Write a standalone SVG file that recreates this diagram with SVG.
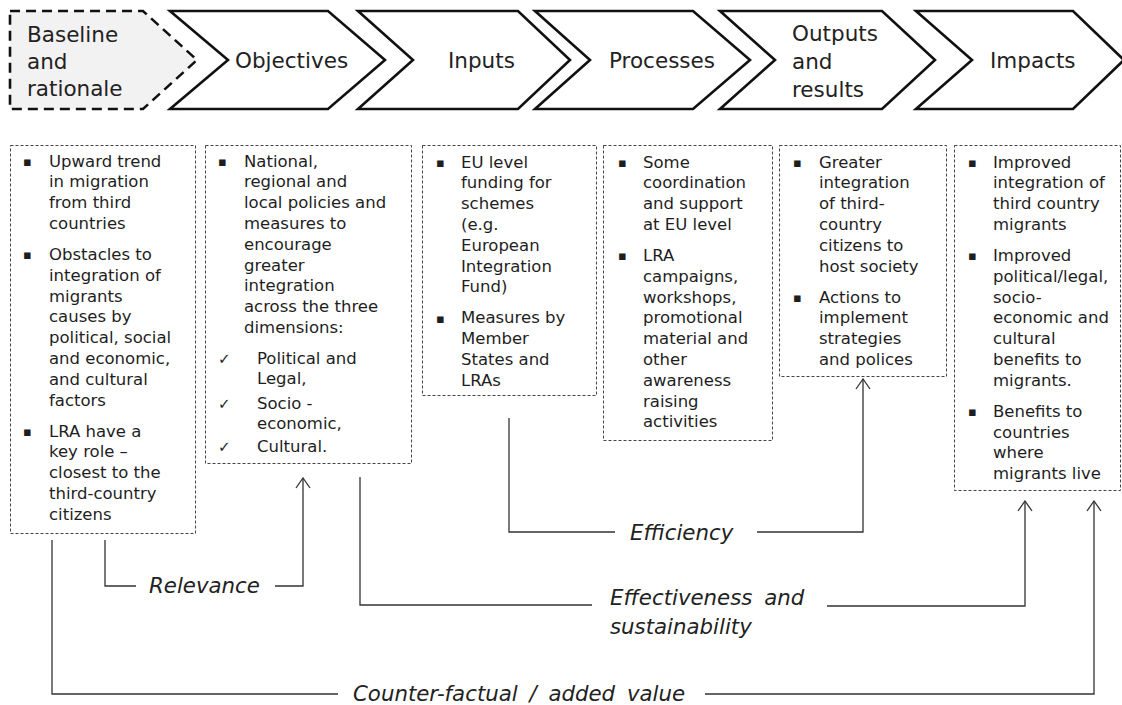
<svg xmlns="http://www.w3.org/2000/svg" width="1122" height="705" viewBox="0 0 1122 705">
<defs>
<style>
.chev{fill:#ffffff;stroke:#111;stroke-width:2.6;stroke-linejoin:miter}
.chev.base{fill:#f2f2f2;stroke-dasharray:10,6}
.ct{font-family:"DejaVu Sans",Verdana,sans-serif;font-size:21.5px;fill:#222}
.box{fill:none;stroke:#444;stroke-width:1;stroke-dasharray:3,2}
.bt{font-family:"DejaVu Sans",Verdana,sans-serif;font-size:16.5px;fill:#1e1e1e}
.bl{font-family:"DejaVu Sans",sans-serif;font-size:13px;fill:#1e1e1e}
.ck{font-family:"DejaVu Sans",sans-serif;font-size:15px;fill:#1e1e1e}
.conn path{fill:none;stroke:#333;stroke-width:1.3}
.lt{font-family:"DejaVu Sans",Verdana,sans-serif;font-size:21.3px;font-style:italic;fill:#222;word-spacing:5px}
</style>
<marker id="arr" viewBox="-1 -8 12 16" refX="10" refY="0" markerWidth="12" markerHeight="16" markerUnits="userSpaceOnUse" orient="auto">
<path d="M0,-7 L10,0 L0,7" fill="none" stroke="#333" stroke-width="1.3"/>
</marker>
</defs>
<rect width="1122" height="705" fill="#ffffff"/>

<g id="chev-baseline">
<polygon class="chev base" points="10,11 143,11 197,60 143,109 10,109"/>
<text class="ct" x="27" y="42">Baseline</text>
<text class="ct" x="27" y="69">and</text>
<text class="ct" x="27" y="96">rationale</text>
</g>
<g id="chev-objectives">
<polygon class="chev" points="170,11 328,11 385,60 328,109 170,109 228,60"/>
<text class="ct" x="235" y="68">Objectives</text>
</g>
<g id="chev-inputs">
<polygon class="chev" points="358,11 518,11 570,60 518,109 358,109 413,60"/>
<text class="ct" x="448" y="68">Inputs</text>
</g>
<g id="chev-processes">
<polygon class="chev" points="535,11 693,11 750,60 693,109 535,109 590,60"/>
<text class="ct" x="609" y="68">Processes</text>
</g>
<g id="chev-outputs">
<polygon class="chev" points="720,11 882,11 935,60 882,109 720,109 775,60"/>
<text class="ct" x="792" y="41">Outputs</text>
<text class="ct" x="792" y="69">and</text>
<text class="ct" x="792" y="97">results</text>
</g>
<g id="chev-impacts">
<polygon class="chev" points="916,11 1073,11 1124,60 1073,109 916,109 972,60"/>
<text class="ct" x="990" y="68">Impacts</text>
</g>

<g id="box-baseline">
<rect class="box" x="10.5" y="145.5" width="185" height="388"/>
<text class="bl" x="23" y="166">▪</text>
<text class="bt" x="49" y="166.5">Upward trend</text>
<text class="bt" x="49" y="187.3">in migration</text>
<text class="bt" x="49" y="208.1">from third</text>
<text class="bt" x="49" y="228.9">countries</text>
<text class="bl" x="23" y="259.4">▪</text>
<text class="bt" x="49" y="259.9">Obstacles to</text>
<text class="bt" x="49" y="280.7">integration of</text>
<text class="bt" x="49" y="301.5">migrants</text>
<text class="bt" x="49" y="322.3">causes by</text>
<text class="bt" x="49" y="343.1">political, social</text>
<text class="bt" x="49" y="363.9">and economic,</text>
<text class="bt" x="49" y="384.7">and cultural</text>
<text class="bt" x="49" y="405.5">factors</text>
<text class="bl" x="23" y="436">▪</text>
<text class="bt" x="49" y="436.5">LRA have a</text>
<text class="bt" x="49" y="457.3">key role –</text>
<text class="bt" x="49" y="478.1">closest to the</text>
<text class="bt" x="49" y="498.9">third-country</text>
<text class="bt" x="49" y="519.7">citizens</text>
</g>

<g id="box-objectives">
<rect class="box" x="205.5" y="145.5" width="206" height="318"/>
<text class="bl" x="218" y="166">▪</text>
<text class="bt" x="244" y="166.5">National,</text>
<text class="bt" x="244" y="187.3">regional and</text>
<text class="bt" x="244" y="208.1">local policies and</text>
<text class="bt" x="244" y="228.9">measures to</text>
<text class="bt" x="244" y="249.7">encourage</text>
<text class="bt" x="244" y="270.5">greater</text>
<text class="bt" x="244" y="291.3">integration</text>
<text class="bt" x="244" y="312.1">across the three</text>
<text class="bt" x="244" y="332.9">dimensions:</text>
<text class="ck" x="218" y="363.5">✓</text>
<text class="bt" x="257" y="363.5">Political and</text>
<text class="bt" x="257" y="384.3">Legal,</text>
<text class="ck" x="218" y="408.5">✓</text>
<text class="bt" x="257" y="408.5">Socio -</text>
<text class="bt" x="257" y="429.3">economic,</text>
<text class="ck" x="218" y="451.5">✓</text>
<text class="bt" x="257" y="451.5">Cultural.</text>
</g>

<g id="box-inputs">
<rect class="box" x="422.5" y="145.5" width="174" height="250"/>
<text class="bl" x="436" y="167">▪</text>
<text class="bt" x="461" y="167.5">EU level</text>
<text class="bt" x="461" y="188.3">funding for</text>
<text class="bt" x="461" y="209.1">schemes</text>
<text class="bt" x="461" y="229.9">(e.g.</text>
<text class="bt" x="461" y="250.7">European</text>
<text class="bt" x="461" y="271.5">Integration</text>
<text class="bt" x="461" y="292.3">Fund)</text>
<text class="bl" x="436" y="322.8">▪</text>
<text class="bt" x="461" y="323.3">Measures by</text>
<text class="bt" x="461" y="344.1">Member</text>
<text class="bt" x="461" y="364.9">States and</text>
<text class="bt" x="461" y="385.7">LRAs</text>
</g>

<g id="box-processes">
<rect class="box" x="603.5" y="145.5" width="169" height="295"/>
<text class="bl" x="618" y="167">▪</text>
<text class="bt" x="643" y="167.5">Some</text>
<text class="bt" x="643" y="188.3">coordination</text>
<text class="bt" x="643" y="209.1">and support</text>
<text class="bt" x="643" y="229.9">at EU level</text>
<text class="bl" x="618" y="260.4">▪</text>
<text class="bt" x="643" y="260.9">LRA</text>
<text class="bt" x="643" y="281.7">campaigns,</text>
<text class="bt" x="643" y="302.5">workshops,</text>
<text class="bt" x="643" y="323.3">promotional</text>
<text class="bt" x="643" y="344.1">material and</text>
<text class="bt" x="643" y="364.9">other</text>
<text class="bt" x="643" y="385.7">awareness</text>
<text class="bt" x="643" y="406.5">raising</text>
<text class="bt" x="643" y="427.3">activities</text>
</g>

<g id="box-outputs">
<rect class="box" x="779.5" y="145.5" width="167" height="231"/>
<text class="bl" x="793" y="167">▪</text>
<text class="bt" x="819" y="167.5">Greater</text>
<text class="bt" x="819" y="188.3">integration</text>
<text class="bt" x="819" y="209.1">of third-</text>
<text class="bt" x="819" y="229.9">country</text>
<text class="bt" x="819" y="250.7">citizens to</text>
<text class="bt" x="819" y="271.5">host society</text>
<text class="bl" x="793" y="302">▪</text>
<text class="bt" x="819" y="302.5">Actions to</text>
<text class="bt" x="819" y="323.3">implement</text>
<text class="bt" x="819" y="344.1">strategies</text>
<text class="bt" x="819" y="364.9">and polices</text>
</g>

<g id="box-impacts">
<rect class="box" x="954.5" y="145.5" width="166" height="345"/>
<text class="bl" x="968" y="167">▪</text>
<text class="bt" x="993" y="167.5">Improved</text>
<text class="bt" x="993" y="188.3">integration of</text>
<text class="bt" x="993" y="209.1">third country</text>
<text class="bt" x="993" y="229.9">migrants</text>
<text class="bl" x="968" y="260.4">▪</text>
<text class="bt" x="993" y="260.9">Improved</text>
<text class="bt" x="993" y="281.7">political/legal,</text>
<text class="bt" x="993" y="302.5">socio-</text>
<text class="bt" x="993" y="323.3">economic and</text>
<text class="bt" x="993" y="344.1">cultural</text>
<text class="bt" x="993" y="364.9">benefits to</text>
<text class="bt" x="993" y="385.7">migrants.</text>
<text class="bl" x="968" y="416.2">▪</text>
<text class="bt" x="993" y="416.7">Benefits to</text>
<text class="bt" x="993" y="437.5">countries</text>
<text class="bt" x="993" y="458.3">where</text>
<text class="bt" x="993" y="479.1">migrants live</text>
</g>

<g id="connectors" class="conn">
<path d="M105,540 V586 H136"/>
<path d="M275,586 H303 V478" marker-end="url(#arr)"/>
<path d="M52,540 V694 H338"/>
<path d="M705,694 H1094 V501" marker-end="url(#arr)"/>
<path d="M360,477 V605 H592"/>
<path d="M827,606 H1025 V501" marker-end="url(#arr)"/>
<path d="M509,418 V532 H615"/>
<path d="M757,532 H863 V379" marker-end="url(#arr)"/>
</g>
<g id="labels">
<text class="lt" x="149" y="593">Relevance</text>
<text class="lt" x="353" y="701">Counter-factual / added value</text>
<text class="lt" x="610" y="605">Effectiveness and</text>
<text class="lt" x="610" y="634">sustainability</text>
<text class="lt" x="630" y="540">Efficiency</text>
</g>
</svg>
